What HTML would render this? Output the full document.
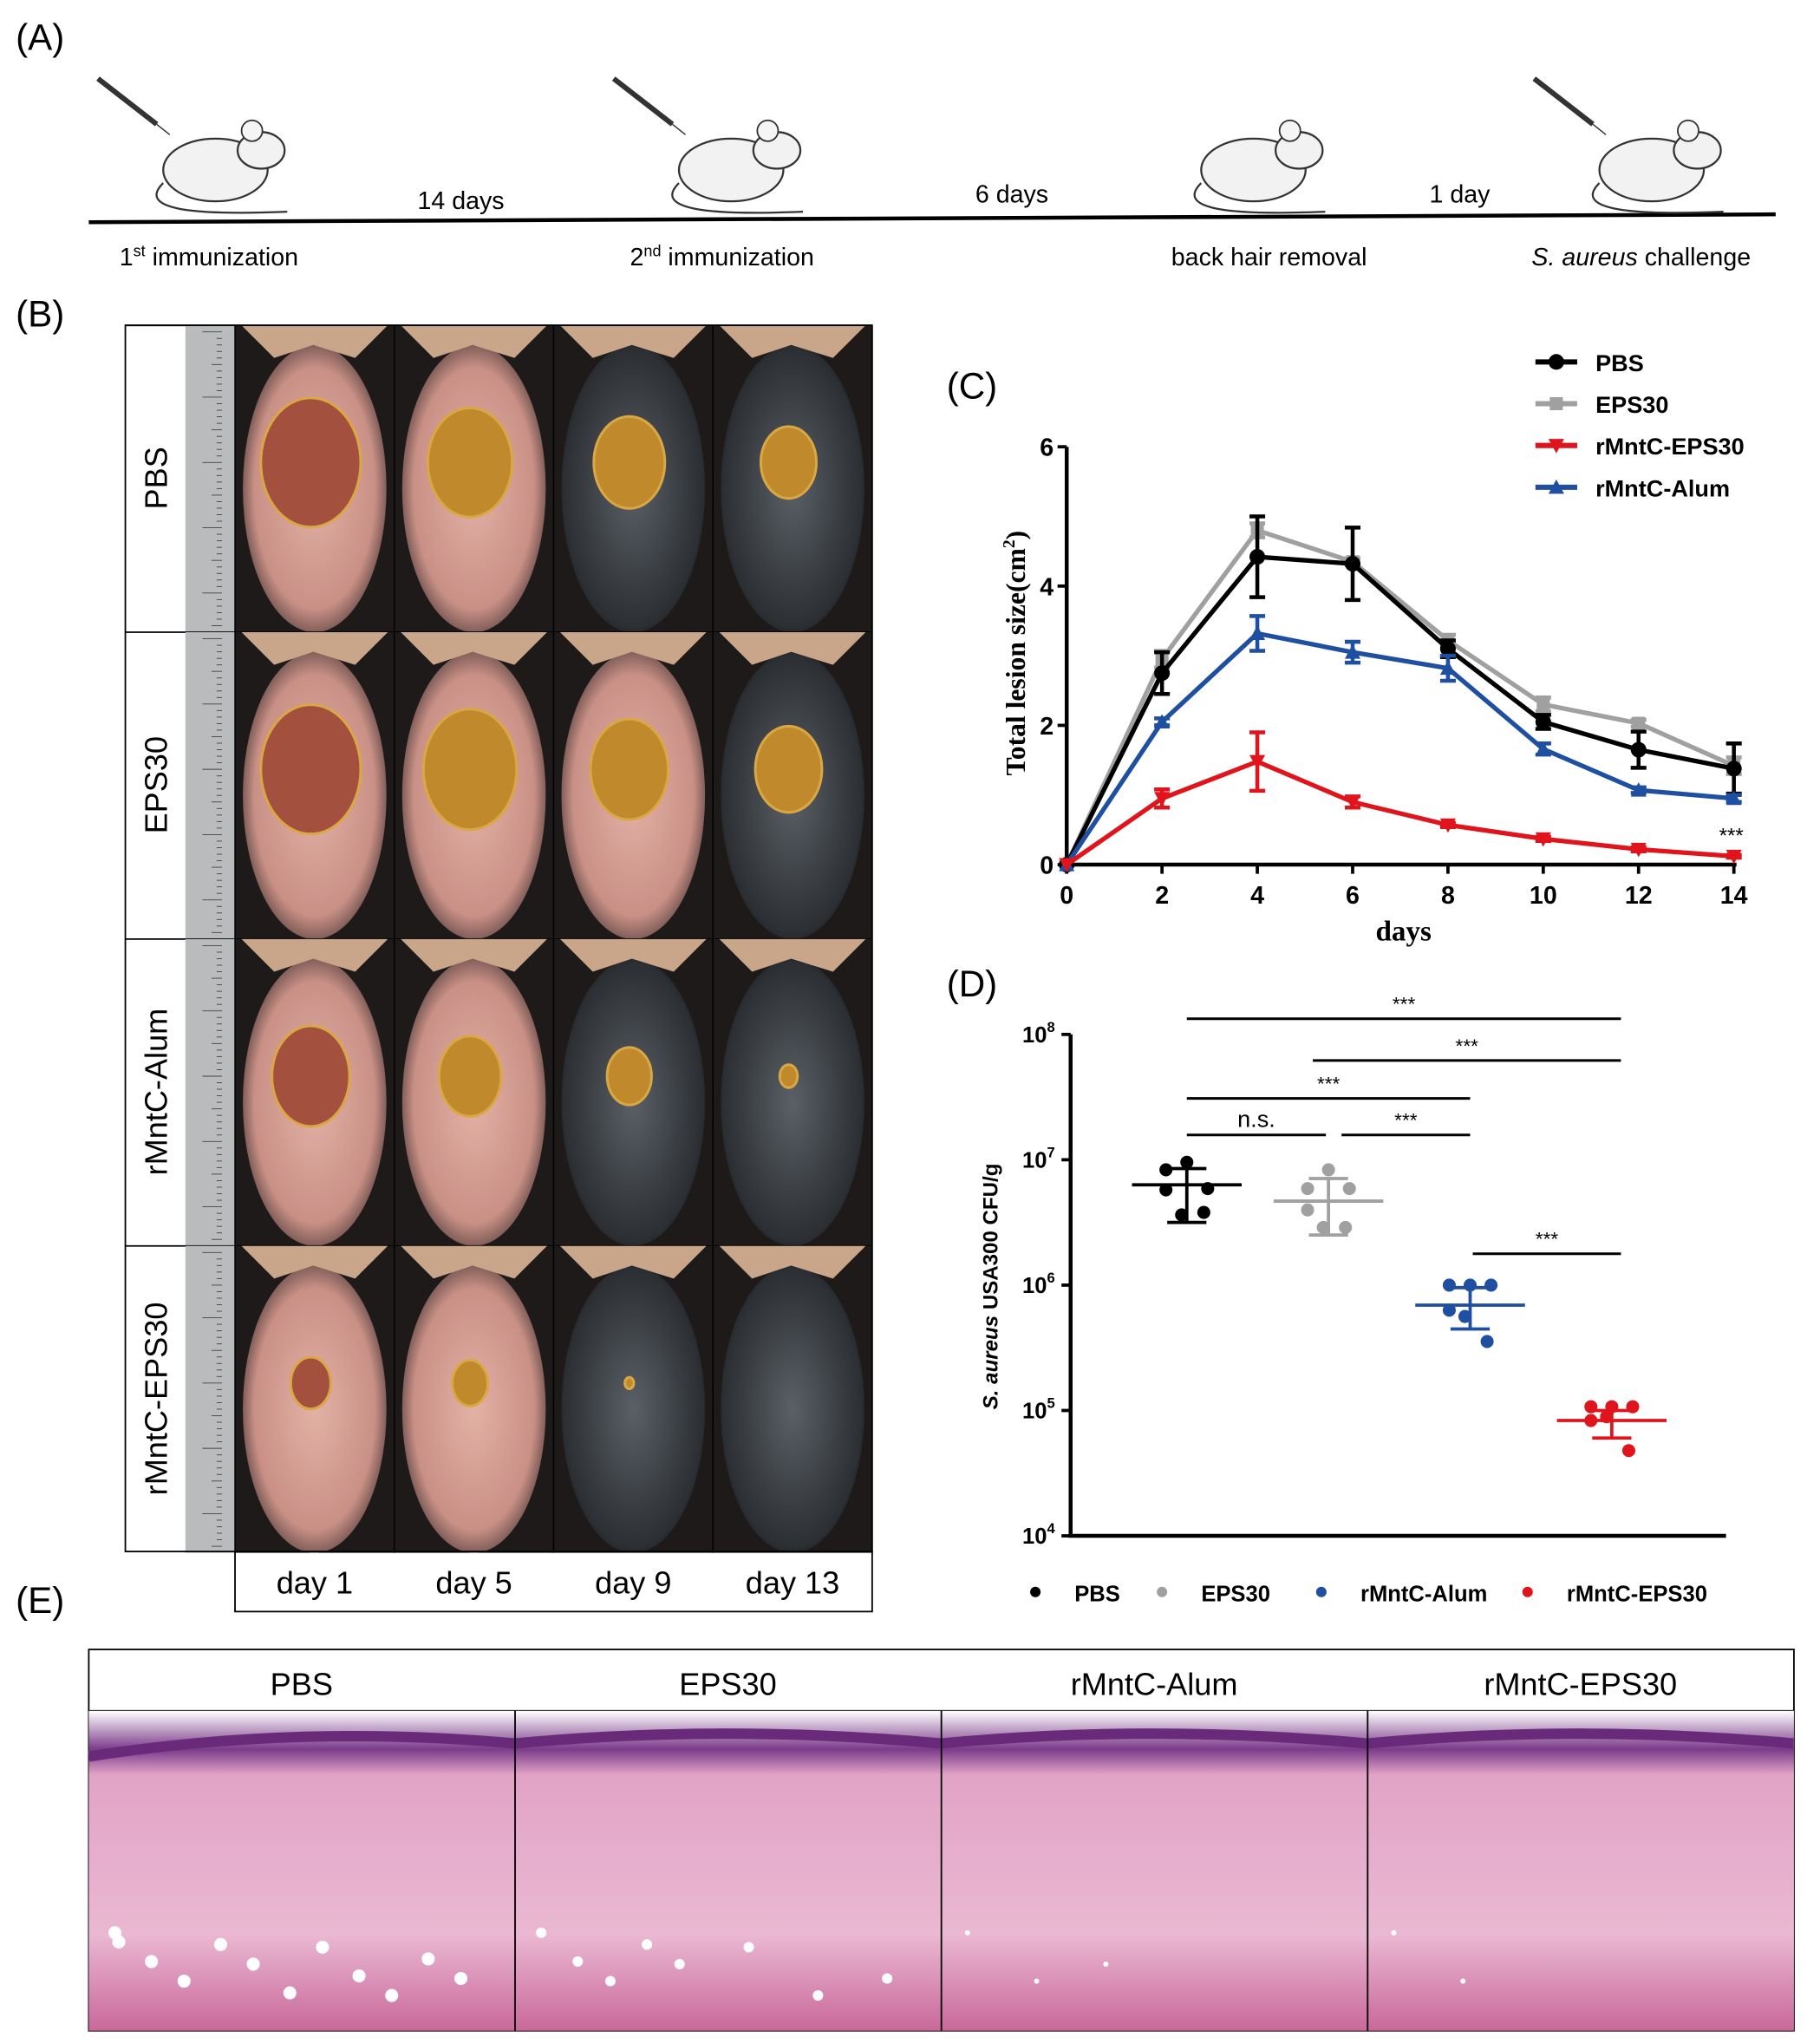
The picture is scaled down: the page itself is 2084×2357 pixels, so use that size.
<!DOCTYPE html>
<html><head><meta charset="utf-8"><style>
html,body{margin:0;padding:0;background:#fff}
svg{display:block;font-family:"Liberation Sans",sans-serif}
</style></head><body>
<svg id="fig" width="2084" height="2357" viewBox="0 0 1384 1565" xmlns="http://www.w3.org/2000/svg">
<defs>
<radialGradient id="skin" cx="50%" cy="50%" r="60%"><stop offset="0" stop-color="#e3b1a5"/><stop offset="0.7" stop-color="#c99086"/><stop offset="1" stop-color="#2a2222"/></radialGradient>
<radialGradient id="dark" cx="50%" cy="50%" r="60%"><stop offset="0" stop-color="#5a6066"/><stop offset="0.8" stop-color="#2c2f33"/><stop offset="1" stop-color="#111"/></radialGradient>
<linearGradient id="histo" x1="0" y1="0" x2="0" y2="1"><stop offset="0" stop-color="#fff"/><stop offset="0.12" stop-color="#7b3b8a"/><stop offset="0.2" stop-color="#e2a3c6"/><stop offset="0.7" stop-color="#eab8d2"/><stop offset="1" stop-color="#c9689a"/></linearGradient>
</defs>

<!-- Panel A -->
<g>
<text x="12" y="38" font-size="28">(A)</text>
<line x1="68" y1="170" x2="1360" y2="164" stroke="#000" stroke-width="3"/>
<g id="mice"></g>
<text x="353" y="160" font-size="19" text-anchor="middle">14 days</text>
<text x="775" y="155" font-size="19" text-anchor="middle">6 days</text>
<text x="1118" y="155" font-size="19" text-anchor="middle">1 day</text>
<text x="160" y="203" font-size="19" text-anchor="middle">1<tspan font-size="12" dy="-7">st</tspan><tspan dy="7"> immunization</tspan></text>
<text x="553" y="203" font-size="19" text-anchor="middle">2<tspan font-size="12" dy="-7">nd</tspan><tspan dy="7"> immunization</tspan></text>
<text x="972" y="203" font-size="19" text-anchor="middle">back hair removal</text>
<text x="1257" y="203" font-size="19" text-anchor="middle"><tspan font-style="italic">S. aureus</tspan> challenge</text>
</g>

<!-- Panel B -->
<g>
<text x="12" y="250" font-size="28">(B)</text>
<g id="photos"></g>
<rect x="96" y="249" width="572" height="939" fill="none" stroke="#000" stroke-width="1.2"/>
<rect x="180" y="1188" width="488" height="46" fill="none" stroke="#000" stroke-width="1.2"/>
<text x="241" y="1220" font-size="24" text-anchor="middle">day 1</text>
<text x="363" y="1220" font-size="24" text-anchor="middle">day 5</text>
<text x="485" y="1220" font-size="24" text-anchor="middle">day 9</text>
<text x="607" y="1220" font-size="24" text-anchor="middle">day 13</text>
</g>

<!-- Panel C -->
<g id="panelC">
<text x="725" y="305" font-size="28">(C)</text>
</g>

<!-- Panel D -->
<g id="panelD">
<text x="725" y="763" font-size="28">(D)</text>
</g>

<!-- Panel E -->
<g id="panelE">
<text x="12" y="1235" font-size="28">(E)</text>
</g>
</svg>
<script>
const NS="http://www.w3.org/2000/svg";
function mk(tag,attrs,parent,txt){const e=document.createElementNS(NS,tag);for(const k in attrs)e.setAttribute(k,attrs[k]);if(txt!==undefined)e.textContent=txt;parent.appendChild(e);return e;}

// ---- Panel A mice ----
const miceX=[165,560,960,1265];
const syringe=[true,true,false,true];
const mg=document.getElementById('mice');
miceX.forEach((x,i)=>{
  const g=mk('g',{},mg);
  
  
  mk('ellipse',{cx:x,cy:130,rx:40,ry:24,fill:'#f2f2f2',stroke:'#333','stroke-width':1.5},g);
  mk('ellipse',{cx:x+35,cy:115,rx:18,ry:14,fill:'#f2f2f2',stroke:'#333','stroke-width':1.5},g);
  mk('circle',{cx:x+28,cy:100,r:8,fill:'#f5f5f5',stroke:'#333','stroke-width':1.2},g);
  mk('path',{d:`M${x-40},140 C${x-60},160 ${x-20},165 ${x+55},162`,fill:'none',stroke:'#333','stroke-width':1.5},g);
  if(syringe[i]){
    mk('line',{x1:x-90,y1:60,x2:x-45,y2:95,stroke:'#333','stroke-width':4},g);
    mk('line',{x1:x-45,y1:95,x2:x-35,y2:103,stroke:'#333','stroke-width':1},g);
  }
});

// ---- Panel B photos ----
const rows=['PBS','EPS30','rMntC-Alum','rMntC-EPS30'];
const lesionR=[[45,38,32,25],[45,42,35,30],[35,28,20,8],[18,16,4,0]];
const darkCols=[[0,0,1,1],[0,0,0,1],[0,0,1,1],[0,0,1,1]];
const pg=document.getElementById('photos');
rows.forEach((r,ri)=>{
  const y0=249+ri*235;
  const lt=mk('text',{x:0,y:0,'font-size':24,'text-anchor':'middle',transform:`translate(128,${y0+117}) rotate(-90)`},pg,r);
  
  
  mk('line',{x1:96,y1:y0,x2:668,y2:y0,stroke:'#000','stroke-width':1.2},pg);
  const ru=mk('rect',{x:142,y:y0,width:38,height:235,fill:'#b9bbbd'},pg);
  
  
  for(let k=0;k<46;k++)mk('line',{x1:170,y1:y0+5+k*5,x2:k%10==0?155:(k%5==0?162:166),y2:y0+5+k*5,stroke:'#444','stroke-width':0.6},pg);
  for(let c=0;c<4;c++){
    const x0=180+c*122;
    const ph=mk('g',{},pg);
    
    
    mk('rect',{x:x0,y:y0,width:122,height:235,fill:'#1e1a1a'},ph);
    mk('ellipse',{cx:x0+61,cy:y0+125,rx:55,ry:110,fill:darkCols[ri][c]?'url(#dark)':'url(#skin)'},ph);
    mk('path',{d:`M${x0+5},${y0} L${x0+30},${y0+25} L${x0+60},${y0+15} L${x0+92},${y0+25} L${x0+117},${y0} Z`,fill:'#c9a68a'},ph);
    const lr=lesionR[ri][c];
    if(lr>0)mk('ellipse',{cx:x0+58,cy:y0+105,rx:lr*0.85,ry:lr*1.1,fill:c==0?'#a4503e':'#c08a2c',stroke:'#d9a845','stroke-width':2},ph);
    mk('line',{x1:x0,y1:y0,x2:x0,y2:y0+235,stroke:'#000','stroke-width':1},ph);
  }
});

// ---- Panel C line chart ----
const cDays=[0,2,4,6,8,10,12,14];
const cPBS=[0,2.75,4.42,4.32,3.1,2.05,1.65,1.38];
const cPBSerr=[0,0.3,0.58,0.52,0.12,0.1,0.26,0.36];
const cEPS=[0,2.95,4.8,4.35,3.22,2.3,2.03,1.42];
const cEPSerr=[0,0.12,0.1,0.05,0.08,0.1,0.05,0.12];
const cEPSr=[0,0.95,1.48,0.9,0.57,0.37,0.22,0.12];
const cEPSrerr=[0,0.13,0.42,0.08,0.03,0.03,0.03,0.02];
const cAlum=[0,2.05,3.32,3.05,2.82,1.66,1.07,0.95];
const cAlumerr=[0,0.05,0.25,0.15,0.18,0.08,0.04,0.05];
const cYTicks=[0,2,4,6];
const cXTicks=[0,2,4,6,8,10,12,14];
const CX0=817,CX1=1328,CY0=662,CY1=342;
const cx=d=>CX0+(d/14)*(CX1-CX0);
const cy=v=>CY0-(v/6)*(CY0-CY1);
const pc=document.getElementById('panelC');
const axC=mk('path',{d:`M${CX0},${CY1} L${CX0},${CY0} L${CX1+2},${CY0}`,fill:'none',stroke:'#000','stroke-width':3},pc);


cYTicks.forEach(t=>{mk('line',{x1:CX0-7,y1:cy(t),x2:CX0,y2:cy(t),stroke:'#000','stroke-width':2.5},pc);
 const e=mk('text',{x:CX0-10,y:cy(t)+7,'font-size':19,'font-weight':'bold','text-anchor':'end'},pc,t);
 
 });
cXTicks.forEach(t=>{mk('line',{x1:cx(t),y1:CY0,x2:cx(t),y2:CY0+7,stroke:'#000','stroke-width':2.5},pc);
 const e=mk('text',{x:cx(t),y:CY0+30,'font-size':19,'font-weight':'bold','text-anchor':'middle'},pc,t);
 
 });
const cyl=mk('text',{x:0,y:0,'font-size':21,'font-weight':'bold','font-family':'Liberation Serif,serif','text-anchor':'middle',transform:`translate(785,500) rotate(-90)`},pc);
cyl.innerHTML='Total lesion size(cm<tspan font-size="13" dy="-8">2</tspan><tspan dy="8">)</tspan>';


const cxl=mk('text',{x:1075,y:720,'font-size':22,'font-weight':'bold','font-family':'Liberation Serif,serif','text-anchor':'middle'},pc,'days');


const series=[
 {n:'EPS30',v:cEPS,e:cEPSerr,c:'#a0a0a0',m:'sq'},
 {n:'PBS',v:cPBS,e:cPBSerr,c:'#000',m:'ci'},
 {n:'rMntC-Alum',v:cAlum,e:cAlumerr,c:'#1f4fa0',m:'up'},
 {n:'rMntC-EPS30',v:cEPSr,e:cEPSrerr,c:'#e0141c',m:'dn'}];
function marker(m,x,y,c,par){
 if(m==='ci')return mk('circle',{cx:x,cy:y,r:6,fill:c},par);
 if(m==='sq')return mk('rect',{x:x-5,y:y-5,width:10,height:10,fill:c},par);
 if(m==='up')return mk('path',{d:`M${x},${y-6} L${x+6},${y+5} L${x-6},${y+5}Z`,fill:c},par);
 return mk('path',{d:`M${x},${y+6} L${x+6},${y-5} L${x-6},${y-5}Z`,fill:c},par);
}
series.forEach(s=>{
 const g=mk('g',{},pc);
 
 
 s.v.forEach((v,i)=>{if(s.e[i]>0){const x=cx(cDays[i]);
  mk('path',{d:`M${x},${cy(v-s.e[i])} L${x},${cy(v+s.e[i])} M${x-6},${cy(v-s.e[i])} L${x+6},${cy(v-s.e[i])} M${x-6},${cy(v+s.e[i])} L${x+6},${cy(v+s.e[i])}`,stroke:s.c,'stroke-width':3,fill:'none'},g);}});
 const l=mk('polyline',{points:s.v.map((v,i)=>cx(cDays[i])+','+cy(v)).join(' '),fill:'none',stroke:s.c,'stroke-width':3.5},g);
 
 
 s.v.forEach((v,i)=>{const p=marker(s.m,cx(cDays[i]),cy(v),s.c,g);
  
  });
});
const st=mk('text',{x:1326,y:645,'font-size':16,'text-anchor':'middle'},pc,'***');


const legC=[['PBS','#000','ci'],['EPS30','#a0a0a0','sq'],['rMntC-EPS30','#e0141c','dn'],['rMntC-Alum','#1f4fa0','up']];
legC.forEach((l,i)=>{const y=277+i*32;const g=mk('g',{},pc);
 
 
 mk('line',{x1:1176,y1:y,x2:1208,y2:y,stroke:l[1],'stroke-width':4},g);
 marker(l[2],1192,y,l[1],g);
 mk('text',{x:1222,y:y+7,'font-size':18,'font-weight':'bold'},g,l[0]);});

// ---- Panel D dot plot ----
const dGroups=['PBS','EPS30','rMntC-Alum','rMntC-EPS30'];
const dColors=['#000','#a0a0a0','#1f4fa0','#e0141c'];
const dPoints=[[6.98,6.92,6.77,6.76,6.56,6.58],[6.92,6.77,6.77,6.60,6.46,6.46],[6.0,6.0,6.0,5.8,5.75,5.55],[5.03,5.03,5.03,4.92,4.95,4.68]];
const dMean=[6.8,6.67,5.84,4.92];
const dSdHi=[6.93,6.85,5.98,5.0];
const dSdLo=[6.5,6.4,5.65,4.78];
const dYTicks=[4,5,6,7,8];
const jitter=[0,-16,16,-16,-4,13];
const DX0=820,DX1=1322,DY0=1176,DY1=792;
const dgx=i=>909+i*108.5;
const dy=l=>DY0-(l-4)/4*(DY0-DY1);
const pd=document.getElementById('panelD');
const axD=mk('path',{d:`M${DX0},${DY1} L${DX0},${DY0} L${DX1},${DY0}`,fill:'none',stroke:'#000','stroke-width':3},pd);


dYTicks.forEach(t=>{mk('line',{x1:DX0-7,y1:dy(t),x2:DX0,y2:dy(t),stroke:'#000','stroke-width':2.5},pd);
 const e=mk('text',{x:DX0-12,y:dy(t)+6,'font-size':17,'font-weight':'bold','text-anchor':'end'},pd);
 e.innerHTML='10<tspan font-size="11" dy="-8">'+t+'</tspan>';
 
 });
const dyl=mk('text',{x:0,y:0,'font-size':16,'font-weight':'bold','text-anchor':'middle',transform:'translate(764,985) rotate(-90)'},pd);
dyl.innerHTML='<tspan font-style="italic">S. aureus</tspan> USA300 CFU/g';


dGroups.forEach((gname,i)=>{const g=mk('g',{},pd);
 
 
 const x=dgx(i),c=dColors[i];
 mk('path',{d:`M${x},${dy(dSdLo[i])} L${x},${dy(dSdHi[i])} M${x-15},${dy(dSdLo[i])} L${x+15},${dy(dSdLo[i])} M${x-15},${dy(dSdHi[i])} L${x+15},${dy(dSdHi[i])}`,stroke:c,'stroke-width':2.5,fill:'none'},g);
 const m=mk('line',{x1:x-42,y1:dy(dMean[i]),x2:x+42,y2:dy(dMean[i]),stroke:c,'stroke-width':2.5},g);
 
 
 dPoints[i].forEach((v,j)=>{const p=mk('circle',{cx:x+jitter[j],cy:dy(v),r:5,fill:c},g);
  
  });
});
const sig=[[0,3,780,'***'],[1,3,812,'***'],[0,2,841,'***'],[0,1,869,'n.s.'],[1,2,869,'***'],[2,3,960,'***']];
sig.forEach(s=>{const g=mk('g',{},pd);
 
 
 const a=dgx(s[0])+(s[3]!=='n.s.'&&s[0]===1&&s[1]===2?10:(s[0]===1&&s[1]===3?-12:0))+(s[0]===2?2:0),b=dgx(s[1])+(s[1]===3?7:(s[1]===1&&s[3]==='n.s.'?-2:0));
 mk('line',{x1:a,y1:s[2],x2:b,y2:s[2],stroke:'#000','stroke-width':2},g);
 mk('text',{x:(a+b)/2,y:s[2]-6,'font-size':s[3]==='n.s.'?18:15,'text-anchor':'middle'},g,s[3]);});
dGroups.forEach((gname,i)=>{const lx=[793,890,1012,1170][i];const g=mk('g',{},pd);
 
 
 mk('circle',{cx:lx,cy:1219,r:4,fill:dColors[i]},g);
 mk('text',{x:lx+30,y:1226,'font-size':17,'font-weight':'bold'},g,gname);});

// ---- Panel E histology ----
const pe=document.getElementById('panelE');
const eNames=['PBS','EPS30','rMntC-Alum','rMntC-EPS30'];
const fat=[[12,5],[8,4],[3,2],[2,2]];
mk('rect',{x:68,y:1263,width:1306,height:292,fill:'none',stroke:'#000','stroke-width':1.2},pe);
mk('line',{x1:68,y1:1310,x2:1374,y2:1310,stroke:'#000','stroke-width':1.2},pe);
eNames.forEach((n,i)=>{const x0=68+i*326.5;
 const t=mk('text',{x:x0+163,y:1298,'font-size':24,'text-anchor':'middle'},pe,n);
 
 
 const g=mk('g',{},pe);
 
 
 mk('rect',{x:x0,y:1310,width:326.5,height:245,fill:'url(#histo)'},g);
 mk('path',{d:`M${x0},${1335+(i==0?10:0)} Q${x0+160},${1320} ${x0+326},${1335}`,stroke:'#6a2a7a','stroke-width':8,fill:'none'},g);
 for(let k=0;k<fat[i][0];k++)mk('circle',{cx:x0+20+((k*53)%290),cy:1480+((k*37)%50),r:fat[i][1],fill:'#fff'},g);
 if(i>0)mk('line',{x1:x0,y1:1310,x2:x0,y2:1555,stroke:'#000','stroke-width':1.2},pe);
});
</script>
</body></html>
